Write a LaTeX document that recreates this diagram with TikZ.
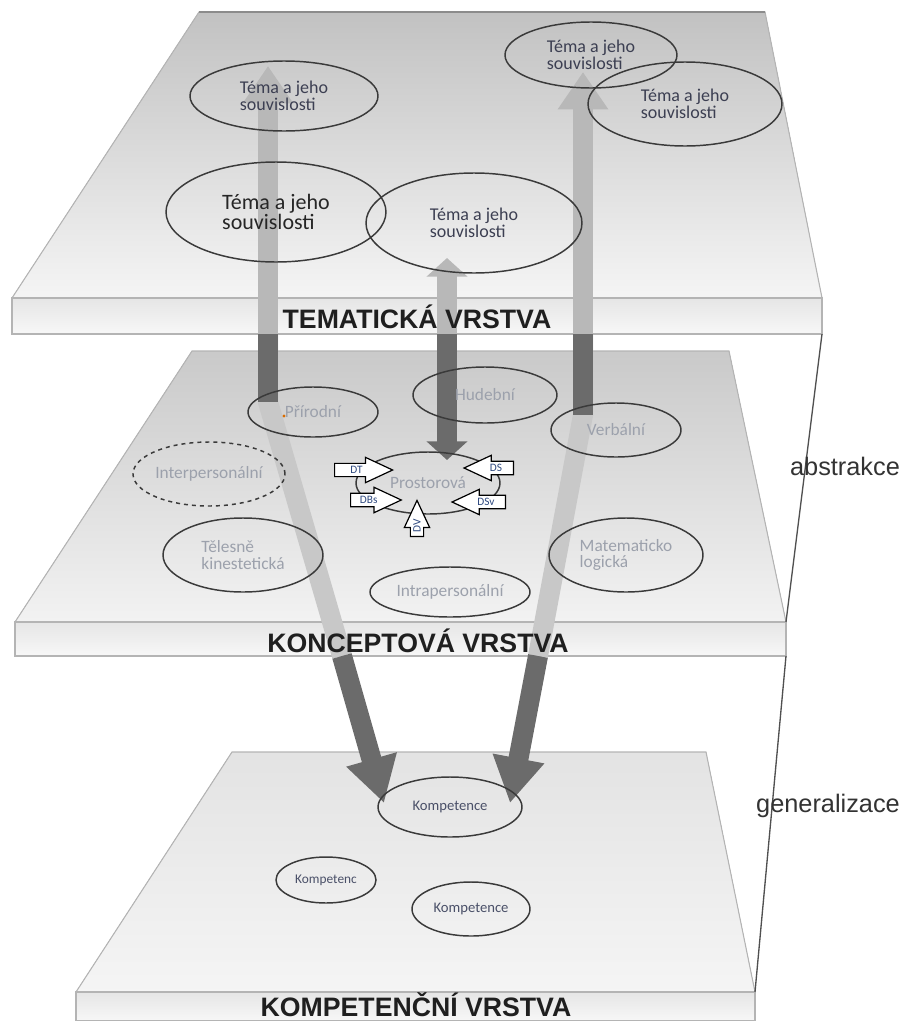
\documentclass[tikz,border=0pt]{standalone}
\usepackage{fontspec}
\setmainfont{Carlito}
\newfontfamily\arialfont{Liberation Sans}
\usetikzlibrary{shapes.geometric,shapes.arrows,arrows.meta}
\definecolor{ringcol}{HTML}{3A3A3A}
\definecolor{temacol}{HTML}{3C3F52}
\definecolor{konccol}{HTML}{9CA1AC}
\definecolor{kompcol}{HTML}{4A5068}
\definecolor{dircol}{HTML}{2F4A80}
\definecolor{darkarr}{HTML}{6B6B6B}
\definecolor{toparr}{HTML}{B8B8B8}
\definecolor{midarr}{HTML}{C8C8C8}
\definecolor{edgecol}{HTML}{B4B4B4}
\definecolor{sidecol}{HTML}{505050}

\begin{document}
\begin{tikzpicture}[x=0.75pt,y=-0.75pt,
    face/.style={draw=edgecol, line width=0.8pt},
    front/.style={draw=edgecol, line width=0.8pt, top color=black!10, bottom color=black!3},
    layer/.style={font=\arialfont\bfseries\fontsize{20}{20}\selectfont, text=black!88},
    side/.style={font=\arialfont\fontsize{19}{19}\selectfont, text=black!80},
    rad/.style 2 args={minimum width=#1*1.5pt, minimum height=#2*1.5pt},
    ring/.style={ellipse, draw=ringcol, line width=1.1pt, inner sep=0pt, align=left},
    tema/.style={ring, text=temacol, font=\fontsize{13.5}{12.5}\selectfont},
    koncept/.style={ring, text=konccol, font=\fontsize{13}{12.5}\selectfont},
    komp/.style={ring, text=kompcol, font=\fontsize{11}{11}\selectfont},
    dimarrow/.style={single arrow, draw=black, fill=white, line width=0.9pt,
      inner xsep=1pt, inner ysep=1.8pt,
      single arrow head extend=4.5pt, single arrow tip angle=50,
      text=dircol, font=\fontsize{8.5}{8.5}\selectfont},
    shaft/.style={line width=15pt},
    uptip/.tip={Triangle[width=36pt,length=28pt]},
    midtip/.tip={Triangle[width=30pt,length=14pt]},
    downtip/.tip={Triangle[width=37pt,length=34pt]}]
\useasboundingbox (0,0) rectangle (909,1021);

\coordinate (A1) at (199,12);  \coordinate (A2) at (765,12);
\coordinate (A3) at (822,298); \coordinate (A4) at (12,298);
\coordinate (A5) at (822,334);
\coordinate (B1) at (192,351); \coordinate (B2) at (729,351);
\coordinate (B3) at (786,622); \coordinate (B4) at (15,622);
\coordinate (B5) at (786,656);
\coordinate (C1) at (232,752); \coordinate (C2) at (706,752);
\coordinate (C3) at (755,992); \coordinate (C4) at (76,992);
\coordinate (C5) at (755,1021);

\filldraw[face, top color=black!24, bottom color=black!4] (A1) -- (A2) -- (A3) -- (A4) -- cycle;
\draw[black!45, line width=1pt] (A1) -- (A2);
\filldraw[front] (A4) rectangle (A5);
\filldraw[face, top color=black!21, bottom color=black!5] (B1) -- (B2) -- (B3) -- (B4) -- cycle;
\filldraw[front] (B4) rectangle (B5);
\filldraw[face, top color=black!11, bottom color=black!4] (C1) -- (C2) -- (C3) -- (C4) -- cycle;
\filldraw[front] (C4) rectangle (C5);

\draw[sidecol, line width=1pt] (A5) -- (B3) (B5) -- (C3);

\coordinate (ltip) at (268,66);   \coordinate (lmid) at (268,334);
\coordinate (lbend) at (268,402); \coordinate (lfoot) at (342,656);
\coordinate (lend) at (384,803);
\coordinate (rtip) at (583,72);   \coordinate (rmid) at (583,334);
\coordinate (rbend) at (583,415); \coordinate (rfoot) at (538,656);
\coordinate (rend) at (510,803);
\coordinate (mtip) at (447,258);  \coordinate (mmid) at (447,334);
\coordinate (mend) at (447,460);

\draw[shaft, toparr, -{uptip}] (lmid) -- (ltip);
\draw[shaft, midarr, line join=miter] (lmid) -- (lbend) -- (lfoot);
\draw[shaft, darkarr] (lmid) -- (lbend);
\draw[shaft, darkarr, -{downtip}] (lfoot) -- (lend);
\draw[shaft, toparr, -{uptip}] (rmid) -- (rtip);
\draw[shaft, midarr, line join=miter] (rmid) -- (rbend) -- (rfoot);
\draw[shaft, darkarr] (rmid) -- (rbend);
\draw[shaft, darkarr, -{downtip}] (rfoot) -- (rend);
\draw[shaft, toparr, -{midtip}] (mmid) -- (mtip);
\draw[shaft, darkarr, -{midtip}] (mmid) -- (mend);

\node[tema, rad={94}{35}] (t1) at (284,96) {Téma a jeho\\souvislosti};
\node[tema, rad={110}{50}, text=black!85, font=\fontsize{16.5}{15.5}\selectfont] (t2) at (276,212) {Téma a jeho\\souvislosti};
\node[tema, rad={108}{50}] (t3) at (474,223) {Téma a jeho\\souvislosti};
\node[tema, rad={86}{33}] (t4) at (591,55) {Téma a jeho\\souvislosti};
\node[tema, rad={97}{42}] (t5) at (685,104) {Téma a jeho\\souvislosti};

\node[koncept, rad={65}{25}] (prir) at (313,412) {Přírodní};
\node[koncept, rad={72}{28}] (hud) at (485,395) {Hudební};
\node[koncept, rad={65}{27}] (verb) at (616,430) {Verbální};
\node[koncept, rad={76}{32}, dashed] (inter) at (209,474) {Interpersonální};
\node[koncept, rad={72}{31}] (prost) at (428,483) {Prostorová};
\node[koncept, rad={80}{37}] (tel) at (243,555) {Tělesně\\kinestetická};
\node[koncept, rad={77}{37}] (mat) at (626,555) {Matematicko\\logická};
\node[koncept, rad={80}{25}] (intra) at (450,592) {Intrapersonální};
\fill[orange!85!black] (284,416) circle (1.6);

\node[dimarrow, anchor=tail, minimum height=43.5pt] (dt) at (334,470) {DT};
\node[dimarrow, anchor=tail, minimum height=37pt, shape border rotate=180] (ds) at (514,468) {DS};
\node[dimarrow, anchor=tail, minimum height=38pt] (dbs) at (350,500) {DBs};
\node[dimarrow, anchor=tail, minimum height=40pt, shape border rotate=180] (dsv) at (506,502) {DSv};
\node[dimarrow, anchor=tail, minimum height=27pt, rotate=90] (dv) at (417,537) {DV};

\node[komp, rad={72}{30}] (k1) at (450,807) {Kompetence};
\node[komp, rad={50}{23}, font=\fontsize{10}{10}\selectfont] (k2) at (326,880) {Kompetenc};
\node[komp, rad={59}{27}] (k3) at (471,909) {Kompetence};

\node[layer] (ltema) at (417,317) {TEMATICKÁ VRSTVA};
\node[layer] (lkonc) at (418,641) {KONCEPTOVÁ VRSTVA};
\node[layer] (lkomp) at (416,1005) {KOMPETENČNÍ VRSTVA};
\node[side] (abs) at (845,466) {abstrakce};
\node[side] (gen) at (828,806) {generalizace};
\end{tikzpicture}
\end{document}
